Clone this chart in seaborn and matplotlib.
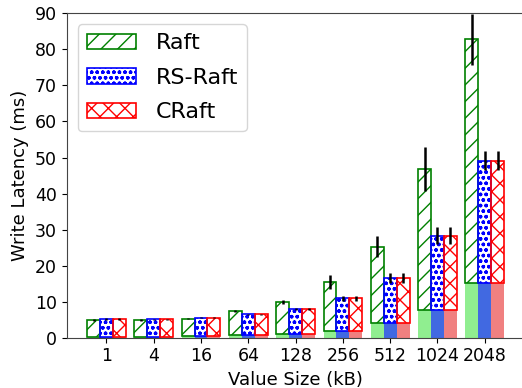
import pandas as pd
import seaborn as sns
import matplotlib
matplotlib.use("Agg")
import matplotlib.pyplot as plt

# ==========================================
# Datos
# ==========================================
sizes = ['1', '4', '16', '64', '128', '256', '512', '1024', '2048']
algos = ['Raft', 'RS-Raft', 'CRaft']

raft_total = [4.9, 4.9, 5.3, 7.3, 10.0, 15.5, 25.3, 46.7, 82.8]
rs_total = [5.2, 5.1, 5.6, 6.5, 7.9, 10.9, 16.6, 28.3, 49.1]
craft_total = [5.2, 5.1, 5.6, 6.5, 7.9, 10.9, 16.6, 28.3, 49.1]

# parte sólida inferior (igual para los tres)
base = [0.2, 0.25, 0.35, 0.8, 1.1, 2.0, 4.0, 7.7, 15.3]

raft_err = [0.2, 0.2, 0.2, 0.3, 0.6, 1.85, 2.9, 6.1, 7.0]
rs_err = [0.15, 0.15, 0.15, 0.2, 0.3, 0.8, 1.3, 2.4, 2.6]
craft_err = [0.15, 0.15, 0.15, 0.2, 0.3, 0.8, 1.3, 2.4, 2.6]

edge_colors = ['green', 'blue', 'red']
solid_colors = ['lightgreen', 'royalblue', 'lightcoral']
hatches = ['//', 'ooo', 'xx']

# tabla larga
filas = []
for algo, tot, err in zip(algos, [raft_total, rs_total, craft_total],
                          [raft_err, rs_err, craft_err]):
    for s, t, b, e in zip(sizes, tot, base, err):
        filas.append({'size': s, 'algo': algo, 'total': t, 'base': b,
                      'upper': t - b, 'err': e})
df = pd.DataFrame(filas)

sns.set_style("ticks")
plt.rcParams['font.family'] = ['DejaVu Sans']
for k in ['text.color', 'axes.labelcolor', 'xtick.color', 'ytick.color']:
    plt.rcParams[k] = 'black'

fig = plt.figure(figsize=(5.22, 3.88), dpi=100)
ax = fig.add_axes([0.1278, 0.1296, 0.877, 0.836])

# parte sólida
sns.barplot(data=df, x='size', y='base', hue='algo', order=sizes, hue_order=algos,
            palette=solid_colors, saturation=1, width=0.82, errorbar=None,
            legend=False, linewidth=0, ax=ax)
n_solid = len(ax.containers)

# parte rayada, apilada encima de la base
sns.barplot(data=df, x='size', y='upper', hue='algo', order=sizes, hue_order=algos,
            palette=edge_colors, saturation=1, width=0.82, errorbar=None,
            legend=False, bottom=base, ax=ax)

hatched = ax.containers[n_solid:]
for cont, ec, h in zip(hatched, edge_colors, hatches):
    for p in cont:
        p.set_facecolor('none')
        p.set_edgecolor(ec)
        p.set_hatch(h)
        p.set_linewidth(1.2)

# barras de error
for cont, algo in zip(hatched, algos):
    sub = df[df['algo'] == algo]
    xs = [p.get_x() + p.get_width() / 2 for p in cont]
    ax.errorbar(xs, sub['total'].values, yerr=sub['err'].values, fmt='none',
                ecolor='black', elinewidth=1.8, capsize=0, zorder=5)

ax.set_ylim(0, 90)
ax.set_xlim(-0.84, 8.84)
ax.set_xlabel('Value Size (kB)', fontsize=13)
ax.set_ylabel('Write Latency (ms)', fontsize=13)
ax.tick_params(labelsize=12.5)
for sp in ax.spines.values():
    sp.set_color('#444444')

ax.legend(hatched, algos, loc='upper left', fontsize=16,
          labelspacing=0.65, handlelength=2.2, handletextpad=0.9)

plt.savefig('out.png', dpi=100)
